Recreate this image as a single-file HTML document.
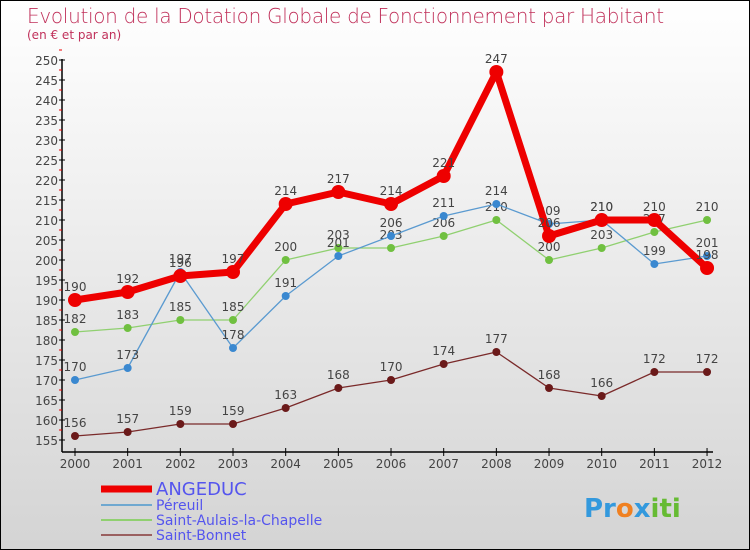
<!DOCTYPE html>
<html><head><meta charset="utf-8"><style>
body{margin:0}
#wrap{position:relative;width:748px;height:548px;border:1px solid #000;background:linear-gradient(#ffffff,#d4d4d4);font-family:"DejaVu Sans","Liberation Sans",sans-serif;overflow:hidden}
.t{position:absolute;white-space:nowrap}
</style></head><body>
<div id="wrap">
<div class="t" style="left:26px;top:3px;font-size:20px;color:#c0305a;font-weight:200;letter-spacing:-0.3px">Evolution de la Dotation Globale de Fonctionnement par Habitant</div>
<div class="t" style="left:26px;top:27px;font-size:12px;color:#c0305a">(en € et par an)</div>
<svg id="svg" width="748" height="548" style="position:absolute;left:0;top:0" font-family="DejaVu Sans, Liberation Sans, sans-serif"></svg>
</div>
<script>
const years=[2000,2001,2002,2003,2004,2005,2006,2007,2008,2009,2010,2011,2012];
const angeduc=[190,192,196,197,214,217,214,221,247,206,210,210,198];
const pereuil=[170,173,197,178,191,201,206,211,214,209,210,199,201];
const aulais=[182,183,185,185,200,203,203,206,210,200,203,207,210];
const bonnet=[156,157,159,159,163,168,170,174,177,168,166,172,172];
const yTicks=[155,160,165,170,175,180,185,190,195,200,205,210,215,220,225,230,235,240,245,250];
const NS="http://www.w3.org/2000/svg";
const svg=document.getElementById('svg');
const x=i=>74+i*52.67;
const y=v=>439-(v-155)*4;
function mk(t,a,p){const e=document.createElementNS(NS,t);for(const k in a)e.setAttribute(k,a[k]);(p||svg).appendChild(e);return e;}
// axes
const ya=mk('line',{x1:61,y1:58,x2:61,y2:451,stroke:'#000','stroke-width':1.5});


const xa=mk('line',{x1:61,y1:451,x2:712,y2:451,stroke:'#000','stroke-width':1.5});


yTicks.forEach(v=>{
 mk('line',{x1:58,y1:y(v),x2:64,y2:y(v),stroke:'#000'});
 mk('line',{x1:58,y1:y(v)-10,x2:61,y2:y(v)-10,stroke:'#e00'});
 const t=mk('text',{x:57,y:y(v)+5,'text-anchor':'end','font-size':12,fill:'#444'});t.textContent=v;
 
 
});
years.forEach((yr,i)=>{
 mk('line',{x1:x(i),y1:447,x2:x(i),y2:455,stroke:'#000'});
 const t=mk('text',{x:x(i),y:467,'text-anchor':'middle','font-size':12,fill:'#444'});t.textContent=yr;
 
 
});
function series(arr,color,w,r,ptColor,name){
 const g=mk('g',{});
 
 
 mk('polyline',{points:arr.map((v,i)=>x(i)+','+y(v)).join(' '),fill:'none',stroke:color,'stroke-width':w,'stroke-linejoin':'round'},g);
 arr.forEach((v,i)=>{
  const c=mk('circle',{cx:x(i),cy:y(v),r:r,fill:ptColor},g);
  
  
  const t=mk('text',{x:x(i),y:y(v)-9,'text-anchor':'middle','font-size':12,fill:'#444'},g);t.textContent=v;
 });
}
series(bonnet,'#7a2a2a',1.3,4,'#6b1a1a','saint-bonnet-series');
series(aulais,'#90d070',1.3,4,'#70c040','saint-aulais-series');
series(pereuil,'#5a9ad0',1.3,4,'#3a88d0','pereuil-series');
series(angeduc,'#ee0000',7,7,'#ee0000','angeduc-series');
// legend
const legend=[['ANGEDUC','#ee0000',7,16],['Péreuil','#6fa8d0',2,12],['Saint-Aulais-la-Chapelle','#90d070',2,12],['Saint-Bonnet','#9a6060',2,12]];
const ly=[492,508,523,538];
legend.forEach((l,i)=>{
 const g=mk('g',{});
 
 
 mk('line',{x1:100,y1:ly[i]-4,x2:151,y2:ly[i]-4,stroke:l[1],'stroke-width':l[2]},g);
 const t=mk('text',{x:155,y:ly[i]+(i==0?2:1),'font-size':l[3]+2,fill:'#5555ee'},g);t.textContent=l[0];
});
// logo
const lg=mk('text',{x:583,y:516,'font-size':26,'font-weight':'bold',fill:'#2a8ad0'});


lg.innerHTML='<tspan fill="#3399dd">Pr</tspan><tspan fill="#f08020">o</tspan><tspan fill="#3399dd">x</tspan><tspan fill="#66bb33">iti</tspan>';
</script>
</body></html>
